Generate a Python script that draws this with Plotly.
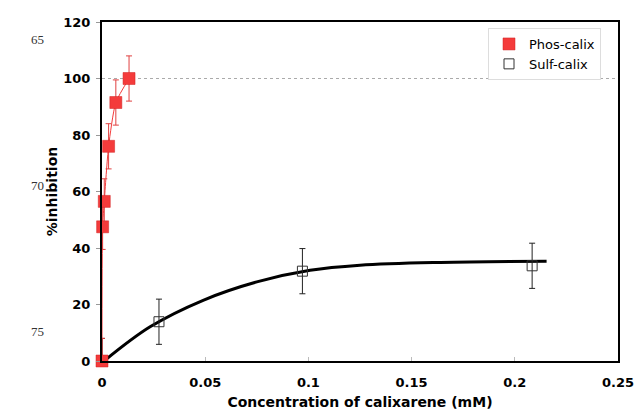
import plotly.graph_objects as go

# Phos-calix data
phos_x = [0, 0.0003, 0.0011, 0.0032, 0.0067, 0.0131]
phos_y = [0, 47.5, 56.5, 76, 91.5, 100]
phos_err = [8, 8, 8, 8, 8, 8]

# Sulf-calix data
sulf_x = [0, 0.0276, 0.0971, 0.2084]
sulf_y = [0, 13.9, 31.8, 33.7]
sulf_err = [8, 8, 8, 8]

# Fitted curve for Sulf-calix
fit_x = [0.001, 0.0233, 0.049, 0.075, 0.1008, 0.125, 0.164, 0.2154]
fit_y = [0, 12.1, 21.5, 28, 32.1, 33.9, 34.9, 35.3]

x_ticks = [0, 0.05, 0.1, 0.15, 0.2, 0.25]
x_ticktext = ["0", "0.05", "0.1", "0.15", "0.2", "0.25"]
y_ticks = [0, 20, 40, 60, 80, 100, 120]

line_numbers = ["65", "70", "75"]
line_number_y = [40, 185, 331]

RED = "#f43b3b"
FONT = "DejaVu Sans"

W, H = 634, 410
PL, PR, PT, PB = 102, 618, 22, 361  # plot area in page pixels


def px(xp):
    return (xp - PL) / (PR - PL)


def py(yp):
    return (PB - yp) / (PB - PT)


fig = go.Figure()

fig.add_trace(go.Scatter(
    x=fit_x, y=fit_y, mode="lines", line=dict(color="black", width=3, shape="spline"),
    showlegend=False, hoverinfo="skip", cliponaxis=False))

fig.add_trace(go.Scatter(
    x=phos_x, y=phos_y, mode="lines",
    line=dict(color=RED, width=1, shape="spline", smoothing=0.6),
    showlegend=False, hoverinfo="skip", cliponaxis=False))

fig.add_trace(go.Scatter(
    x=sulf_x, y=sulf_y, mode="markers", name="Sulf-calix",
    marker=dict(symbol="square-open", size=10, color="#333333", line=dict(width=1, color="#333333")),
    error_y=dict(type="data", array=sulf_err, visible=True, color="#222222", thickness=1, width=3),
    cliponaxis=False))

fig.add_trace(go.Scatter(
    x=phos_x, y=phos_y, mode="markers", name="Phos-calix",
    marker=dict(symbol="square", size=12, color=RED, line=dict(width=0.5, color="#d02020")),
    error_y=dict(type="data", array=phos_err, visible=True, color="#e04040", thickness=1, width=3),
    cliponaxis=False))

# reference line at 100
fig.add_shape(type="line", xref="paper", yref="y", x0=0, x1=1, y0=100, y1=100,
              line=dict(color="#aaaaaa", width=1, dash="dot"), layer="below")

for t, yy in zip(line_numbers, line_number_y):
    fig.add_annotation(text=t, xref="paper", yref="paper", x=px(37), xanchor="center",
                       y=py(yy), yanchor="middle", showarrow=False,
                       font=dict(family="Liberation Serif", size=13, color="#333333"))

fig.update_layout(
    width=W, height=H,
    margin=dict(l=PL, r=W - PR, t=PT, b=H - PB, autoexpand=False),
    paper_bgcolor="white", plot_bgcolor="white",
    font=dict(family=FONT, color="black"),
    showlegend=True,
    legend=dict(x=px(601), y=py(28), xanchor="right", yanchor="top",
                bgcolor="white", bordercolor="#dddddd", borderwidth=1,
                font=dict(family=FONT, size=13, color="black"),
                traceorder="reversed", itemwidth=30, tracegroupgap=0),
    xaxis=dict(range=[0, 0.25], tickvals=x_ticks, ticktext=x_ticktext,
               showline=True, mirror=True, linecolor="black", linewidth=2,
               ticks="inside", ticklen=4, tickcolor="#bbbbbb", automargin=False,
               showgrid=False, zeroline=False, ticklabelstandoff=8,
               ticklabeloverflow="allow",
               tickfont=dict(family=FONT, size=13, weight="bold"),
               title=dict(text="Concentration of calixarene (mM)", standoff=12,
                          font=dict(family=FONT, size=14, weight="bold"))),
    yaxis=dict(range=[0, 120], tickvals=y_ticks,
               showline=True, mirror=True, linecolor="black", linewidth=2,
               ticks="outside", ticklen=4, tickcolor="#999999", automargin=False,
               showgrid=False, zeroline=False, ticklabelstandoff=3,
               tickfont=dict(family=FONT, size=13, weight="bold"),
               title=dict(text="%inhibition", standoff=2,
                          font=dict(family=FONT, size=14, weight="bold"))),
)

fig.write_html("out.html", config={"displayModeBar": False},
               post_script="document.body.style.margin='0';document.body.style.overflow='hidden';")
